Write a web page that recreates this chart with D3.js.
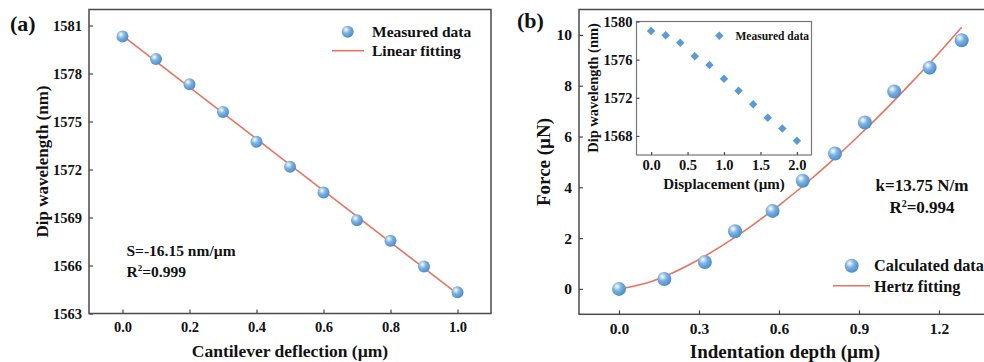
<!DOCTYPE html>
<html><head><meta charset="utf-8">
<script src="https://cdn.jsdelivr.net/npm/d3@7"></script>
<style>
html,body{margin:0;padding:0;background:#fff;}
svg{display:block;}
text{font-family:"Liberation Serif","Times New Roman",serif;font-weight:bold;fill:#111;}
</style></head><body>
<svg id="c" width="984" height="362"></svg>
<script>
// ---- Panel (a) data ----
const deflection = [0.0,0.1,0.2,0.3,0.4,0.5,0.6,0.7,0.8,0.9,1.0];
const dipWavelengthA = [1580.31,1578.90,1577.33,1575.60,1573.73,1572.17,1570.56,1568.83,1567.54,1565.94,1564.33];
const linFitX = [0.0, 1.0];
const linFitY = [1580.37, 1564.22];
const aYTicks = [1563,1566,1569,1572,1575,1578,1581];
const aXTicks = [0.0,0.2,0.4,0.6,0.8,1.0];

// ---- Panel (b) data ----
const depth = [0.0,0.17,0.322,0.435,0.576,0.689,0.81,0.922,1.032,1.165,1.285];
const force = [0.0,0.39,1.06,2.27,3.07,4.26,5.33,6.55,7.77,8.71,9.79];
const hertzDepth = [0,0.1,0.2,0.3,0.4,0.5,0.6,0.7,0.8,0.9,1.0,1.1,1.2,1.285];
const hertzForce = [0,0.22,0.63,1.16,1.79,2.50,3.29,4.14,5.06,6.04,7.07,8.16,9.29,10.30];
const bYTicks = [0,2,4,6,8,10];
const bXTicks = [0.0,0.3,0.6,0.9,1.2];

// ---- Inset data ----
const displacement = [0.0,0.2,0.4,0.6,0.8,1.0,1.2,1.4,1.6,1.8,2.0];
const dipWavelengthInset = [1579.0,1578.55,1577.78,1576.36,1575.45,1574.0,1572.75,1571.33,1569.9,1568.77,1567.5];
const insetYTicks = [1568,1572,1576,1580];
const insetXTicks = [0.0,0.5,1.0,1.5,2.0];

const svg = d3.select("#c");
const FRAME = "#4a4a4a";
const FIT = "#e8735f";
const BLUE = "#5b9bd5";

// sphere gradient
const defs = svg.append("defs");
const g = defs.append("radialGradient").attr("id","sph")
  .attr("cx","0.38").attr("cy","0.36").attr("r","0.7").attr("fx","0.36").attr("fy","0.32");
g.append("stop").attr("offset","0").attr("stop-color","#ffffff");
g.append("stop").attr("offset","0.14").attr("stop-color","#d6e7f7");
g.append("stop").attr("offset","0.42").attr("stop-color","#7fb3e2");
g.append("stop").attr("offset","0.8").attr("stop-color","#5796d2");
g.append("stop").attr("offset","1").attr("stop-color","#4a87c6");

function styleAxis(sel, fs){
  sel.select(".domain").remove();
  sel.selectAll(".tick line").attr("stroke",FRAME).attr("stroke-width",1.2);
  sel.selectAll(".tick text").style("font-size",fs+"px").attr("fill","#111");
}

// ================= Panel (a) =================
const ax = d3.scaleLinear().domain([-0.1,1.1]).range([89,491]);
const ay = d3.scaleLinear().domain([1563,1582]).range([313.5,9.5]);

svg.append("g").attr("transform","translate(0,313.5)")
  .call(d3.axisBottom(ax).tickValues(aXTicks).tickFormat(d3.format(".1f")).tickSize(-4).tickPadding(8))
  .call(s=>styleAxis(s,14.5));
svg.append("g").attr("transform","translate(89,0)")
  .call(d3.axisLeft(ay).tickValues(aYTicks).tickFormat(d3.format("d")).tickSize(-4).tickPadding(7))
  .call(s=>styleAxis(s,14.5));
svg.append("rect").attr("x",89).attr("y",9.5).attr("width",491-89).attr("height",313.5-9.5)
  .attr("fill","none").attr("stroke",FRAME).attr("stroke-width",1.5);

svg.append("path").datum(linFitX.map((x,i)=>[x,linFitY[i]]))
  .attr("d",d3.line().x(d=>ax(d[0])).y(d=>ay(d[1])))
  .attr("fill","none").attr("stroke",FIT).attr("stroke-width",1.6);
svg.append("g").selectAll("circle").data(deflection.map((x,i)=>[x,dipWavelengthA[i]])).join("circle")
  .attr("cx",d=>ax(d[0])).attr("cy",d=>ay(d[1])).attr("r",6).attr("fill","url(#sph)");

svg.append("text").attr("x",10).attr("y",31).style("font-size","22px").text("(a)");
svg.append("text").attr("x",290).attr("y",357).attr("text-anchor","middle").style("font-size","17.5px").text("Cantilever deflection (µm)");
svg.append("text").attr("transform","translate(48,161.5) rotate(-90)").attr("text-anchor","middle").style("font-size","17px").text("Dip wavelength (nm)");

// legend a
svg.append("circle").attr("cx",347.7).attr("cy",31.7).attr("r",6).attr("fill","url(#sph)");
svg.append("text").attr("x",372).attr("y",36.5).style("font-size","15.5px").text("Measured data");
svg.append("line").attr("x1",332).attr("x2",364).attr("y1",50.7).attr("y2",50.7).attr("stroke",FIT).attr("stroke-width",1.6);
svg.append("text").attr("x",372).attr("y",56).style("font-size","15.5px").text("Linear fitting");

svg.append("text").attr("x",126.5).attr("y",256).style("font-size","15.5px").text("S=-16.15 nm/µm");
const r2a = svg.append("text").attr("x",126.5).attr("y",277).style("font-size","15.5px");
r2a.append("tspan").text("R");
r2a.append("tspan").attr("dy",-6).style("font-size","9px").text("2");
r2a.append("tspan").attr("dy",6).text("=0.999");

// ================= Panel (b) =================
const bx = d3.scaleLinear().domain([-0.15,1.4]).range([579,992.3]);
const by = d3.scaleLinear().domain([-1,11]).range([314.3,9.5]);

svg.append("g").attr("transform","translate(0,314.3)")
  .call(d3.axisBottom(bx).tickValues(bXTicks).tickFormat(d3.format(".1f")).tickSize(-4).tickPadding(9))
  .call(s=>styleAxis(s,15.5));
svg.append("g").attr("transform","translate(579,0)")
  .call(d3.axisLeft(by).tickValues(bYTicks).tickFormat(d3.format("d")).tickSize(-4).tickPadding(7))
  .call(s=>styleAxis(s,15.5));
svg.append("rect").attr("x",579).attr("y",9.5).attr("width",992.3-579).attr("height",314.3-9.5)
  .attr("fill","none").attr("stroke",FRAME).attr("stroke-width",1.5);

svg.append("path").datum(hertzDepth.map((x,i)=>[x,hertzForce[i]]))
  .attr("d",d3.line().x(d=>bx(d[0])).y(d=>by(d[1])).curve(d3.curveMonotoneX))
  .attr("fill","none").attr("stroke",FIT).attr("stroke-width",1.6);
svg.append("g").selectAll("circle").data(depth.map((x,i)=>[x,force[i]])).join("circle")
  .attr("cx",d=>bx(d[0])).attr("cy",d=>by(d[1])).attr("r",7).attr("fill","url(#sph)");

svg.append("text").attr("x",517).attr("y",28).style("font-size","22px").text("(b)");
svg.append("text").attr("x",785).attr("y",358).attr("text-anchor","middle").style("font-size","19px").text("Indentation depth (µm)");
svg.append("text").attr("transform","translate(550,162) rotate(-90)").attr("text-anchor","middle").style("font-size","19px").text("Force (µN)");

svg.append("text").attr("x",922).attr("y",190.5).attr("text-anchor","middle").style("font-size","17px").text("k=13.75 N/m");
const r2b = svg.append("text").attr("x",922).attr("y",213).attr("text-anchor","middle").style("font-size","17px");
r2b.append("tspan").text("R");
r2b.append("tspan").attr("dy",-6).style("font-size","10px").text("2");
r2b.append("tspan").attr("dy",6).text("=0.994");

// legend b
svg.append("circle").attr("cx",851.7).attr("cy",265.7).attr("r",7).attr("fill","url(#sph)");
svg.append("text").attr("x",874).attr("y",271).style("font-size","16.3px").text("Calculated data");
svg.append("line").attr("x1",833).attr("x2",870).attr("y1",285.7).attr("y2",285.7).attr("stroke",FIT).attr("stroke-width",1.6);
svg.append("text").attr("x",874).attr("y",291.5).style("font-size","16.3px").text("Hertz fitting");

// ================= Inset =================
const ix = d3.scaleLinear().domain([-0.2,2.2]).range([636.5,811.5]);
const iy = d3.scaleLinear().domain([1566,1580]).range([155,21.5]);
svg.append("rect").attr("x",636.5).attr("y",21.5).attr("width",811.5-636.5).attr("height",155-21.5)
  .attr("fill","#fff").attr("stroke","#777").attr("stroke-width",1.2);
svg.append("g").attr("transform","translate(0,155)")
  .call(d3.axisBottom(ix).tickValues(insetXTicks).tickFormat(d3.format(".1f")).tickSize(-3).tickPadding(5))
  .call(s=>styleAxis(s,14.5));
svg.append("g").attr("transform","translate(636.5,0)")
  .call(d3.axisLeft(iy).tickValues(insetYTicks).tickFormat(d3.format("d")).tickSize(-3).tickPadding(4))
  .call(s=>styleAxis(s,14.5));
svg.append("g").selectAll("path").data(displacement.map((x,i)=>[x,dipWavelengthInset[i]])).join("path")
  .attr("transform",d=>`translate(${ix(d[0])},${iy(d[1])}) rotate(45)`)
  .attr("d","M-3,-3H3V3H-3Z").attr("fill",BLUE);
svg.append("path").attr("transform","translate(719.3,35.7) rotate(45)").attr("d","M-3,-3H3V3H-3Z").attr("fill",BLUE);
svg.append("text").attr("x",735.5).attr("y",39.5).style("font-size","11.5px").text("Measured data");
svg.append("text").attr("x",724).attr("y",189).attr("text-anchor","middle").style("font-size","15px").text("Displacement (µm)");
svg.append("text").attr("transform","translate(598,88) rotate(-90)").attr("text-anchor","middle").style("font-size","14.5px").text("Dip wavelength (nm)");
</script></body></html>
